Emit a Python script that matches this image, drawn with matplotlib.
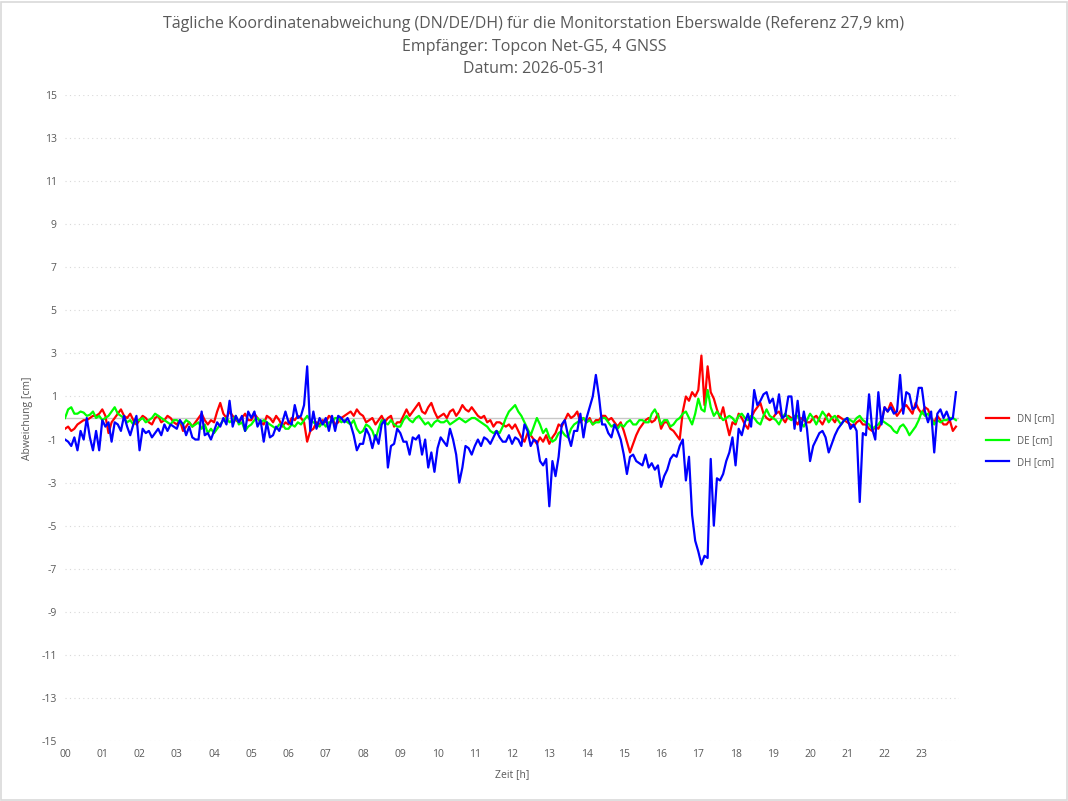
import numpy as np
import matplotlib
matplotlib.use("Agg")
from matplotlib import pyplot as plt

plt.rcParams['font.family'] = ['Open Sans', 'DejaVu Sans']
plt.rcParams['axes.unicode_minus'] = False

# 5-minute samples, one row per hour (cm)
dn = [
    -0.5, -0.4, -0.6, -0.5, -0.3, -0.2, -0.1, -0.1, 0.0, 0.1, 0.1, 0.2,
    0.4, 0.1, -0.7, -0.2, 0.0, 0.2, 0.4, 0.1, 0.0, 0.2, -0.1, -0.3,
    -0.1, 0.1, 0.0, -0.2, -0.3, 0.0, 0.1, -0.2, -0.1, 0.1, 0.0, -0.2,
    -0.3, -0.1, -0.6, -0.4, -0.2, -0.4, -0.2, 0.0, 0.2, -0.1, -0.3, -0.1,
    -0.2, 0.3, 0.7, 0.2, 0.0, 0.3, 0.1, -0.1, -0.2, 0.0, 0.2, -0.1,
    -0.1, 0.2, 0.0, -0.2, -0.3, 0.1, 0.0, -0.2, 0.1, -0.1, -0.4, -0.2,
    -0.3, 0.0, -0.1, 0.1, 0.0, -0.2, -1.1, -0.6, -0.5, -0.2, -0.3, -0.1,
    -0.2, 0.1, 0.0, -0.3, -0.2, 0.0, 0.1, 0.2, 0.3, 0.1, 0.4, 0.2,
    0.1, -0.2, -0.1, 0.0, -0.3, -0.1, 0.1, -0.2, 0.0, 0.1, -0.4, -0.2,
    -0.2, 0.1, 0.4, 0.1, 0.3, 0.5, 0.7, 0.3, 0.2, 0.5, 0.7, 0.3,
    0.0, 0.1, 0.2, 0.0, 0.3, 0.4, 0.1, 0.3, 0.6, 0.4, 0.3, 0.5,
    0.3, 0.1, 0.0, 0.1, -0.2, -0.1, -0.4, -0.2, -0.2, -0.3, -0.4, -0.3,
    -0.5, -0.3, -0.6, -0.9, -1.1, -0.7, -0.8, -1.0, -1.2, -0.9, -1.1, -0.8,
    -1.2, -0.9, -0.7, -0.3, -0.4, -0.1, 0.2, 0.0, 0.1, 0.3, -0.2, 0.0,
    -0.2, 0.0, -0.3, -0.1, -0.1, 0.1, 0.1, -0.1, 0.0, -0.2, -0.4, -0.2,
    -0.6, -1.1, -1.6, -1.2, -0.8, -0.5, -0.3, -0.1, 0.0, -0.2, -0.1, 0.2,
    -0.5, -0.2, -0.2, -0.5, -0.6, -0.8, -1.0, 0.3, 1.0, 0.8, 1.2, 1.0,
    1.3, 2.9, 0.6, 2.4, 1.2, 0.9, 0.4, 0.0, 0.5, -0.2, -0.8, -0.2,
    -0.3, 0.2, 0.0, -0.3, -0.5, 0.0, 0.3, 0.5, 0.7, 0.2, 0.0, -0.1,
    0.0, 0.2, 0.3, 0.0, -0.2, 0.1, 0.0, -0.1, -0.3, 0.0, -0.1, -0.2,
    -0.2, 0.0, 0.1, -0.1, -0.3, 0.0, 0.2, 0.0, -0.2, 0.1, 0.0, -0.1,
    -0.2, -0.3, -0.4, -0.2, -0.1, -0.3, -0.3, -0.5, -0.6, -0.4, -0.5, -0.2,
    0.5, 0.3, 0.7, 0.4, 0.1, 0.3, 0.5, 0.6, 0.4, 0.2, 0.7, 0.4,
    0.2, 0.5, 0.4, 0.0, -0.2, 0.1, -0.1, -0.3, -0.3, -0.1, -0.6, -0.4,
]
de = [
    0.0, 0.4, 0.5, 0.2, 0.2, 0.3, 0.25, 0.1, 0.15, 0.3, 0.0, 0.1,
    -0.1, 0.0, 0.1, 0.3, 0.5, 0.2, 0.1, 0.0, -0.2, -0.1, -0.3, -0.1,
    -0.1, 0.0, -0.2, -0.1, 0.0, 0.2, 0.1, 0.0, -0.1, -0.2, -0.3, -0.1,
    -0.1, -0.2, -0.3, -0.1, -0.2, -0.4, -0.3, -0.2, -0.5, -0.3, -0.7, -0.5,
    -0.7, -0.5, -0.3, -0.1, 0.0, -0.2, -0.1, 0.1, -0.3, -0.2, -0.6, -0.4,
    -0.3, -0.1, 0.0, -0.2, -0.1, -0.2, -0.3, -0.4, -0.5, -0.3, -0.3, -0.5,
    -0.5, -0.3, -0.4, -0.2, -0.3, -0.1, 0.1, -0.1, -0.2, -0.3, -0.4, -0.2,
    -0.4, -0.2, -0.2, 0.0, 0.0, -0.2, -0.1, -0.2, -0.3, -0.1, -0.5, -0.7,
    -0.6, -0.3, -0.4, -0.6, -1.0, -0.5, -0.1, -0.2, -0.3, -0.1, -0.3, -0.4,
    -0.4, -0.1, 0.1, -0.1, -0.2, 0.0, 0.1, -0.1, -0.3, -0.2, -0.4, -0.2,
    -0.1, -0.2, -0.2, -0.1, -0.3, -0.2, -0.1, 0.0, -0.1, -0.2, -0.1, 0.0,
    0.0, -0.1, -0.2, -0.3, -0.4, -0.6, -0.7, -0.6, -0.7, -0.4, 0.0, 0.3,
    0.45, 0.6, 0.3, 0.1, -0.2, -0.5, -0.8, -0.4, 0.0, -0.3, -0.7, -0.5,
    -0.9, -1.1, -1.0, -0.7, -0.6, -0.8, -0.9, -0.5, -0.3, -0.2, -0.1, 0.0,
    -0.2, -0.1, -0.3, -0.2, -0.2, 0.0, 0.0, -0.2, -0.4, -0.3, -0.5, -0.3,
    -0.4, -0.2, -0.1, -0.3, -0.3, -0.1, -0.1, -0.2, -0.2, 0.2, 0.4, 0.1,
    -0.3, -0.1, -0.1, -0.4, -0.3, -0.1, 0.0, 0.2, 0.3, 0.0, -0.3, 0.2,
    0.9, 0.4, 0.3, 1.3, 0.5, 0.1, 0.3, 0.1, -0.1, 0.0, 0.1, 0.0,
    -0.2, 0.1, 0.2, 0.0, -0.1, 0.1, 0.0, -0.2, -0.3, 0.1, 0.4, 0.1,
    0.0, -0.1, -0.3, 0.0, 0.2, 0.0, -0.1, 0.1, 0.1, -0.2, -0.4, -0.1,
    0.2, 0.0, -0.3, 0.0, 0.3, 0.1, -0.2, 0.0, 0.1, -0.1, -0.3, -0.1,
    0.0, -0.1, -0.2, 0.0, 0.1, -0.1, -0.2, -0.3, -0.5, -0.4, -0.3, -0.1,
    -0.2, -0.3, -0.4, -0.6, -0.7, -0.4, -0.3, -0.5, -0.8, -0.6, -0.4, -0.1,
    0.3, 0.1, 0.2, 0.0, -0.3, -0.1, -0.2, -0.1, -0.1, 0.0, 0.0, -0.1,
]
dh = [
    -1.0, -1.1, -1.3, -0.9, -1.5, -0.6, -1.0, 0.0, -0.9, -1.5, -0.6, -1.5,
    -0.1, -0.4, -0.2, -1.1, -0.2, -0.3, -0.6, 0.1, -0.4, -0.8, -0.3, 0.1,
    -1.5, -0.5, -0.7, -0.6, -0.9, -0.7, -0.5, -0.8, -0.3, -0.6, -0.3, -0.4,
    -0.5, -0.1, -0.3, -0.8, -0.4, -0.9, -1.0, -1.0, 0.3, -0.8, -0.7, -1.0,
    -0.6, -0.2, -0.4, 0.0, -0.3, 0.8, -0.4, 0.1, -0.2, 0.1, -0.6, 0.3,
    0.0, 0.3, -0.4, -0.1, -1.1, -0.2, -0.9, -0.8, -0.4, -0.6, -0.2, 0.3,
    -0.2, -0.3, 0.6, 0.0, 0.1, 0.6, 2.4, -0.6, 0.3, -0.5, 0.0, -0.3,
    0.0, -0.6, 0.1, -0.6, 0.1, 0.0, -0.2, 0.0, -0.3, -0.8, -1.5, -1.2,
    -1.2, -0.5, -0.8, -1.4, -0.8, -1.2, -0.3, -0.1, -2.3, -1.3, -1.2, -0.5,
    -0.7, -1.1, -1.1, -1.7, -0.9, -1.0, -0.8, -1.7, -1.0, -2.3, -1.6, -2.5,
    -1.4, -0.9, -1.1, -1.3, -0.5, -1.0, -1.7, -3.0, -2.3, -1.3, -1.4, -1.7,
    -1.3, -1.0, -1.3, -0.9, -1.0, -1.2, -0.9, -0.6, -0.9, -1.1, -1.1, -0.8,
    -1.2, -0.9, -1.0, -1.3, -0.3, -0.6, -1.3, -1.0, -1.1, -2.0, -2.2, -1.9,
    -4.1, -2.0, -2.7, -1.8, -0.3, -0.1, -0.8, -1.3, -0.6, -0.6, 0.2, -0.9,
    0.0, 0.5, 1.0, 2.0, 1.0, -0.3, -0.3, -0.7, -0.9, -0.3, -0.6, -1.0,
    -1.7, -2.6, -1.8, -1.7, -2.0, -2.1, -2.2, -1.7, -2.3, -2.1, -2.4, -2.2,
    -3.2, -2.7, -2.4, -1.9, -1.7, -1.8, -1.3, -1.0, -2.9, -1.8, -4.5, -5.7,
    -6.2, -6.8, -6.4, -6.5, -1.9, -5.0, -2.8, -2.9, -2.6, -2.0, -1.6, -0.9,
    -2.2, -0.5, -0.8, -0.2, 0.2, -0.4, 1.3, 0.6, 0.8, 1.1, 1.2, 0.7,
    0.9, 0.2, 1.1, 0.0, 0.1, 1.0, 1.0, -0.5, 0.8, -0.6, 0.3, -0.5,
    -2.0, -1.3, -1.0, -0.7, -0.6, -0.9, -1.6, -1.2, -0.8, -0.5, -0.3, -0.1,
    0.0, -0.5, -0.3, -0.6, -3.9, -0.7, -0.8, 1.1, -0.5, -1.0, 1.2, -0.3,
    0.5, 0.3, 0.5, 0.2, 0.3, 2.0, 0.2, 1.2, 1.1, 0.4, 0.5, 1.4,
    1.4, 0.3, -0.2, 0.3, -1.6, 0.2, 0.4, 0.0, 0.3, -0.1, 0.0, 1.2,
]
hour_labels = ["%02d" % h for h in range(24)]
y_ticks = list(range(-15, 16, 2))

t = np.arange(len(dn)) / 12.0
txt = "#595959"

fig = plt.figure(figsize=(10.68, 8.01), dpi=100)
ax = fig.add_axes([0.0609, 0.0749, 0.8371, 0.8065])

ax.plot(t, dn, color="#ff0000", lw=1.6, label="DN [cm]")
ax.plot(t, de, color="#00ff00", lw=1.6, label="DE [cm]")
ax.plot(t, dh, color="#0000ff", lw=1.6, label="DH [cm]")

ax.set_xlim(0, 24)
ax.set_ylim(-15, 15)
ax.set_xticks(range(24))
ax.set_xticklabels(hour_labels)
ax.set_yticks(y_ticks)
ax.tick_params(length=0, labelsize=7.5, colors=txt, pad=6)
ax.grid(axis="y", color="#d9d9d9", ls=(0, (1, 3)), lw=0.8)
ax.axhline(0, color="#c8c8c8", lw=1, zorder=0.5)
for s in ax.spines.values():
    s.set_visible(False)

ax.set_xlabel("Zeit [h]", fontsize=7.5, color=txt, labelpad=6)
ax.set_ylabel("Abweichung [cm]", fontsize=7.5, color=txt, labelpad=6)

fig.suptitle("Tägliche Koordinatenabweichung (DN/DE/DH) für die Monitorstation Eberswalde (Referenz 27,9 km)\n"
             "Empfänger: Topcon Net-G5, 4 GNSS\nDatum: 2026-05-31",
             y=0.98, fontsize=11.5, color=txt, linespacing=1.55)

leg = fig.legend(loc="center left", bbox_to_anchor=(0.915, 0.45), frameon=False,
                 fontsize=7, handlelength=2.4, labelspacing=1.1)
for text in leg.get_texts():
    text.set_color(txt)

fig.patches.append(plt.Rectangle((0.001, 0.001), 0.998, 0.997, transform=fig.transFigure,
                                 fill=False, edgecolor="#d9d9d9", lw=1.2))

plt.savefig("out.png", dpi=100)
